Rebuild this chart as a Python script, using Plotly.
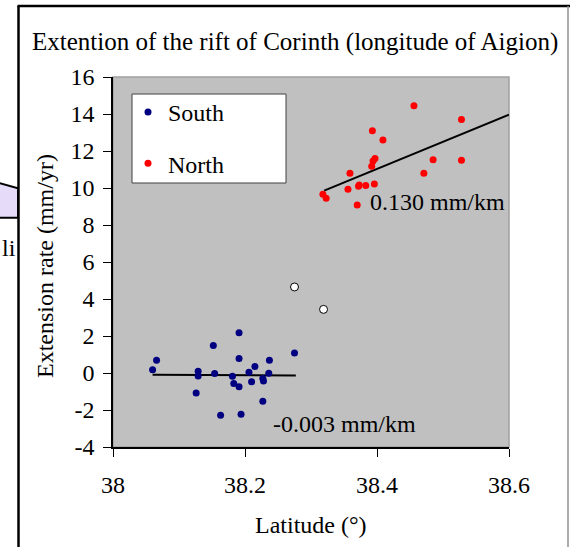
import plotly.graph_objects as go

# ---- data ----
south_lat = [38.060, 38.066, 38.126, 38.129, 38.129, 38.152, 38.154, 38.163, 38.181, 38.183,
             38.191, 38.191, 38.191, 38.194, 38.206, 38.210, 38.215, 38.227, 38.228, 38.227,
             38.236, 38.237, 38.275]
south_rate = [0.18, 0.69, -1.08, 0.09, -0.16, 1.48, -0.03, -2.29, -0.18, -0.57,
              2.18, 0.78, -0.74, -2.23, 0.04, -0.47, 0.35, -0.30, -0.43, -1.53,
              -0.02, 0.69, 1.08]

north_lat = [38.318, 38.323, 38.356, 38.359, 38.370, 38.372, 38.373, 38.383, 38.392, 38.393,
             38.394, 38.397, 38.396, 38.409, 38.456, 38.471, 38.485, 38.528, 38.528]
north_rate = [9.66, 9.44, 9.93, 10.80, 9.08, 10.09, 10.16, 10.13, 11.17, 13.10,
              11.46, 11.59, 10.22, 12.59, 14.45, 10.80, 11.53, 13.70, 11.50]

other_lat = [38.275, 38.319]
other_rate = [4.65, 3.44]

south_fit_lat = [38.060, 38.277]
south_fit_rate = [-0.10, -0.13]
north_fit_lat = [38.320, 38.600]
north_fit_rate = [9.86, 13.97]

x_ticks = [38, 38.2, 38.4, 38.6]
y_ticks = [-4, -2, 0, 2, 4, 6, 8, 10, 12, 14, 16]

FONT = "Liberation Serif, Times New Roman, serif"
FS = 24

# ---- layout geometry (pixels) ----
W, H = 570, 547
L, R, T, B = 113, 61, 77, 100
PW, PH = W - L - R, H - T - B


def px(xp):
    return (xp - L) / PW


def py(yp):
    return (H - B - yp) / PH


fig = go.Figure()

fig.add_trace(go.Scatter(x=south_fit_lat, y=south_fit_rate, mode="lines",
                         line=dict(color="black", width=2), showlegend=False, hoverinfo="skip"))
fig.add_trace(go.Scatter(x=north_fit_lat, y=north_fit_rate, mode="lines",
                         line=dict(color="black", width=2), showlegend=False, hoverinfo="skip"))
fig.add_trace(go.Scatter(x=south_lat, y=south_rate, mode="markers", name="South",
                         legendgroup="a",
                         marker=dict(color="#000080", size=7)))
fig.add_trace(go.Scatter(x=north_lat, y=north_rate, mode="markers", name="North",
                         legendgroup="b",
                         marker=dict(color="#FF0000", size=7)))
fig.add_trace(go.Scatter(x=other_lat, y=other_rate, mode="markers", showlegend=False,
                         marker=dict(color="white", size=8, line=dict(color="black", width=1))))

shapes = [
    # plot border (gray)
    dict(type="rect", xref="paper", yref="paper", x0=0, x1=1, y0=0, y1=1,
         line=dict(color="#A0A0A0", width=1.5), layer="below"),
    # legend box
    dict(type="rect", xref="paper", yref="paper", x0=px(132), x1=px(286), y0=py(183), y1=py(94),
         line=dict(color="#404040", width=1), fillcolor="white", layer="below"),
    # outer frame
    dict(type="line", xref="paper", yref="paper", x0=px(18.5), x1=px(18.5), y0=py(6), y1=py(560),
         line=dict(color="black", width=2.5)),
    dict(type="line", xref="paper", yref="paper", x0=px(17.5), x1=px(570), y0=py(6), y1=py(6),
         line=dict(color="black", width=2.5)),
    dict(type="line", xref="paper", yref="paper", x0=px(568), x1=px(568), y0=py(6), y1=py(560),
         line=dict(color="#909090", width=1.5)),
    # purple cut-off shape at left
    dict(type="path", xref="paper", yref="paper",
         path=f"M {px(-2)},{py(182.7)} L {px(18)},{py(188.3)} L {px(18)},{py(217.7)} L {px(-2)},{py(217.7)} Z",
         fillcolor="#E6DCFA", line=dict(color="black", width=2)),
]

annotations = [
    dict(text="Extention of the rift of Corinth (longitude of Aigion)", xref="paper", yref="paper",
         x=px(295), y=py(42), xanchor="center", yanchor="middle", showarrow=False,
         font=dict(family=FONT, size=25, color="black")),
    dict(text="Latitude (°)", xref="paper", yref="paper",
         x=px(311), y=py(525), xanchor="center", yanchor="middle", showarrow=False,
         font=dict(family=FONT, size=FS, color="black")),
    dict(text="Extension rate (mm/yr)", xref="paper", yref="paper", textangle=-90,
         x=px(45), y=py(266), xanchor="center", yanchor="middle", showarrow=False,
         font=dict(family=FONT, size=FS, color="black")),
    dict(text="0.130 mm/km", xref="paper", yref="paper",
         x=px(368), y=py(202), xanchor="left", yanchor="middle", showarrow=False,
         font=dict(family=FONT, size=FS, color="black")),
    dict(text="-0.003 mm/km", xref="paper", yref="paper",
         x=px(271), y=py(424), xanchor="left", yanchor="middle", showarrow=False,
         font=dict(family=FONT, size=FS, color="black")),
    dict(text="li", xref="paper", yref="paper",
         x=px(0), y=py(248), xanchor="left", yanchor="middle", showarrow=False,
         font=dict(family=FONT, size=FS, color="black")),
]

fig.update_layout(
    width=W, height=H,
    margin=dict(l=L, r=R, t=T, b=B),
    paper_bgcolor="white",
    plot_bgcolor="#C0C0C0",
    font=dict(family=FONT, size=FS, color="black"),
    showlegend=True,
    legend=dict(x=px(128), y=py(90), xanchor="left", yanchor="top",
                bgcolor="rgba(0,0,0,0)", borderwidth=0,
                traceorder="grouped", tracegroupgap=17,
                font=dict(family=FONT, size=FS, color="black")),
    shapes=shapes,
    annotations=annotations,
    xaxis=dict(range=[38, 38.6], tickvals=x_ticks, ticktext=[str(v) for v in x_ticks],
               showgrid=False, zeroline=False, showline=True, linecolor="black", linewidth=1.5,
               ticks="outside", ticklen=8, tickcolor="black", tickwidth=1,
               ticklabelstandoff=7, tickfont=dict(family=FONT, size=FS, color="black")),
    yaxis=dict(range=[-4, 16], tickvals=y_ticks, ticktext=[str(v) for v in y_ticks],
               showgrid=False, zeroline=False, showline=True, linecolor="black", linewidth=1.5,
               ticks="outside", ticklen=8, tickcolor="black", tickwidth=1,
               ticklabelstandoff=4, tickfont=dict(family=FONT, size=FS, color="black")),
)

fig.write_html("out.html")
